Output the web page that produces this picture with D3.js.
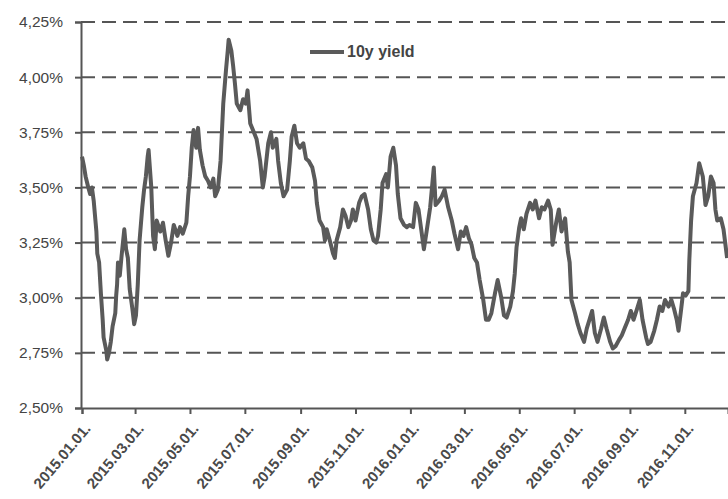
<!DOCTYPE html>
<html>
<head>
<meta charset="utf-8">
<script src="https://cdn.jsdelivr.net/npm/d3@7"></script>
<style>
  html, body { margin: 0; padding: 0; background: #fff; }
  svg { display: block; }
</style>
</head>
<body>
<svg id="chart" width="728" height="499"></svg>
<script>
const seriesName = "10y yield";
const dates = [
"2015-01-01","2015-01-03","2015-01-05","2015-01-08","2015-01-10","2015-01-12","2015-01-14","2015-01-17","2015-01-18","2015-01-20",
"2015-01-22","2015-01-24","2015-01-25","2015-01-28","2015-01-29","2015-01-31","2015-02-02","2015-02-04","2015-02-07","2015-02-08",
"2015-02-09","2015-02-10","2015-02-12","2015-02-14","2015-02-17","2015-02-19","2015-02-21","2015-02-23","2015-02-26","2015-02-28",
"2015-03-02","2015-03-04","2015-03-06","2015-03-09","2015-03-11","2015-03-13","2015-03-15","2015-03-16","2015-03-19","2015-03-21",
"2015-03-23","2015-03-25","2015-03-29","2015-04-01","2015-04-04","2015-04-07","2015-04-10","2015-04-13","2015-04-17","2015-04-20",
"2015-04-23","2015-04-27","2015-04-29","2015-05-01","2015-05-03","2015-05-05","2015-05-08","2015-05-10","2015-05-12","2015-05-15",
"2015-05-18","2015-05-21","2015-05-24","2015-05-27","2015-05-29","2015-06-01","2015-06-04","2015-06-07","2015-06-10","2015-06-12",
"2015-06-13","2015-06-16","2015-06-18","2015-06-20","2015-06-22","2015-06-26","2015-06-29","2015-07-02","2015-07-04","2015-07-07",
"2015-07-10","2015-07-14","2015-07-18","2015-07-21","2015-07-23","2015-07-27","2015-07-30","2015-08-01","2015-08-05","2015-08-07",
"2015-08-10","2015-08-13","2015-08-17","2015-08-20","2015-08-22","2015-08-25","2015-08-28","2015-08-31","2015-09-04","2015-09-07",
"2015-09-10","2015-09-14","2015-09-17","2015-09-19","2015-09-22","2015-09-26","2015-09-28","2015-09-30","2015-10-04","2015-10-07",
"2015-10-09","2015-10-11","2015-10-15","2015-10-18","2015-10-21","2015-10-24","2015-10-27","2015-10-29","2015-11-01","2015-11-05",
"2015-11-08","2015-11-11","2015-11-15","2015-11-18","2015-11-21","2015-11-24","2015-11-26","2015-11-29","2015-12-01","2015-12-05",
"2015-12-07","2015-12-10","2015-12-13","2015-12-16","2015-12-18","2015-12-21","2015-12-25","2015-12-28","2015-12-31","2016-01-04",
"2016-01-07","2016-01-10","2016-01-13","2016-01-16","2016-01-19","2016-01-23","2016-01-25","2016-01-27","2016-01-29","2016-02-02",
"2016-02-05","2016-02-08","2016-02-12","2016-02-16","2016-02-19","2016-02-23","2016-02-26","2016-02-29","2016-03-03","2016-03-06",
"2016-03-09","2016-03-12","2016-03-15","2016-03-18","2016-03-22","2016-03-25","2016-03-28","2016-03-31","2016-04-04","2016-04-07",
"2016-04-11","2016-04-14","2016-04-17","2016-04-21","2016-04-24","2016-04-26","2016-04-28","2016-05-01","2016-05-03","2016-05-06",
"2016-05-09","2016-05-13","2016-05-16","2016-05-19","2016-05-23","2016-05-26","2016-05-29","2016-06-02","2016-06-05","2016-06-07",
"2016-06-11","2016-06-14","2016-06-17","2016-06-21","2016-06-24","2016-06-26","2016-06-28","2016-07-02","2016-07-05","2016-07-08",
"2016-07-12","2016-07-15","2016-07-18","2016-07-21","2016-07-24","2016-07-27","2016-07-31","2016-08-03","2016-08-06","2016-08-10",
"2016-08-13","2016-08-16","2016-08-20","2016-08-23","2016-08-26","2016-08-30","2016-09-02","2016-09-05","2016-09-09","2016-09-12",
"2016-09-15","2016-09-19","2016-09-21","2016-09-24","2016-09-28","2016-10-01","2016-10-04","2016-10-07","2016-10-10","2016-10-14",
"2016-10-17","2016-10-20","2016-10-23","2016-10-25","2016-10-28","2016-10-30","2016-11-02","2016-11-05","2016-11-06","2016-11-08",
"2016-11-10","2016-11-14","2016-11-17","2016-11-21","2016-11-24","2016-11-27","2016-11-30","2016-12-03","2016-12-05","2016-12-07",
"2016-12-11","2016-12-14","2016-12-18"
];
const yields = [
3.64,3.60,3.55,3.50,3.47,3.50,3.44,3.30,3.20,3.16,
3.02,2.90,2.82,2.76,2.72,2.75,2.80,2.87,2.93,3.01,
3.06,3.16,3.10,3.19,3.31,3.22,3.18,3.04,2.95,2.88,
2.92,3.06,3.26,3.41,3.49,3.55,3.64,3.67,3.50,3.28,
3.22,3.35,3.30,3.34,3.26,3.19,3.25,3.33,3.28,3.32,
3.29,3.34,3.46,3.55,3.68,3.76,3.68,3.77,3.67,3.60,
3.55,3.53,3.50,3.54,3.46,3.49,3.62,3.88,4.03,4.12,
4.17,4.12,4.05,3.97,3.88,3.85,3.90,3.88,3.94,3.79,
3.76,3.72,3.62,3.50,3.55,3.70,3.75,3.68,3.72,3.62,
3.52,3.46,3.49,3.62,3.73,3.78,3.70,3.68,3.70,3.63,
3.62,3.59,3.53,3.43,3.35,3.32,3.26,3.31,3.25,3.20,
3.18,3.26,3.32,3.40,3.37,3.32,3.35,3.40,3.35,3.43,
3.46,3.47,3.40,3.31,3.26,3.25,3.28,3.40,3.52,3.56,
3.50,3.64,3.68,3.60,3.47,3.36,3.33,3.32,3.33,3.32,
3.43,3.40,3.31,3.22,3.30,3.41,3.50,3.59,3.42,3.44,
3.46,3.49,3.41,3.35,3.29,3.22,3.30,3.28,3.32,3.27,
3.24,3.18,3.16,3.08,2.99,2.90,2.90,2.93,3.02,3.08,
3.00,2.92,2.91,2.96,3.03,3.11,3.23,3.32,3.36,3.31,
3.38,3.43,3.40,3.44,3.36,3.41,3.40,3.44,3.40,3.24,
3.34,3.40,3.30,3.36,3.21,3.16,2.99,2.93,2.88,2.84,
2.80,2.86,2.90,2.94,2.84,2.80,2.86,2.91,2.86,2.80,
2.77,2.78,2.81,2.83,2.86,2.90,2.94,2.90,2.95,2.99,
2.90,2.82,2.79,2.80,2.85,2.90,2.96,2.94,2.99,2.96,
2.99,2.95,2.90,2.85,2.95,3.02,3.01,3.03,3.17,3.35,
3.46,3.52,3.61,3.55,3.42,3.46,3.55,3.52,3.40,3.35,
3.36,3.31,3.18
];
const xTickLabels = ["2015.01.01.","2015.03.01.","2015.05.01.","2015.07.01.","2015.09.01.","2015.11.01.",
  "2016.01.01.","2016.03.01.","2016.05.01.","2016.07.01.","2016.09.01.","2016.11.01."];
const yTicks = [2.50, 2.75, 3.00, 3.25, 3.50, 3.75, 4.00, 4.25];
const xDomainLabels = ["2015.01.01.", "2016.12.19."];

const parseIso = d3.timeParse("%Y-%m-%d");
const parseLbl = d3.timeParse("%Y.%m.%d.");
const data = dates.map((d, i) => ({ date: parseIso(d), value: yields[i] }));

const svg = d3.select("#chart");
const mLeft = 81, mRight = 728, mTop = 22, mBottom = 408;
const font = "'Liberation Sans', Arial, sans-serif";
const ink = "#555";

const x = d3.scaleTime()
  .domain(xDomainLabels.map(parseLbl))
  .range([mLeft + 1, mRight]);
const y = d3.scaleLinear().domain([2.5, 4.25]).range([mBottom, mTop]);

// gridlines
svg.append("g").selectAll("line")
  .data(yTicks.filter(v => v > 2.5))
  .join("line")
  .attr("x1", mLeft).attr("x2", mRight)
  .attr("y1", d => y(d)).attr("y2", d => y(d))
  .attr("stroke", ink).attr("stroke-width", 2)
  .attr("stroke-dasharray", "14,7");

// y axis
const yAxis = d3.axisLeft(y).tickValues(yTicks).tickSize(6)
  .tickFormat(d => d3.format(".2f")(d).replace(".", ",") + "%");
const gy = svg.append("g").attr("transform", `translate(${mLeft},0)`).call(yAxis);
gy.select(".domain").attr("stroke", ink).attr("stroke-width", 2);
gy.selectAll(".tick line").attr("stroke", ink).attr("stroke-width", 2);
gy.selectAll(".tick text").attr("x", -18).attr("fill", "#444")
  .style("font-family", font).style("font-size", "15.5px");

// x axis
const xAxis = d3.axisBottom(x).tickValues(xTickLabels.map(parseLbl)).tickSize(6)
  .tickFormat(d3.timeFormat("%Y.%m.%d."));
const gx = svg.append("g").attr("transform", `translate(0,${mBottom})`).call(xAxis);
gx.select(".domain").attr("stroke", ink).attr("stroke-width", 2);
gx.selectAll(".tick line").attr("stroke", ink).attr("stroke-width", 2);
gx.selectAll(".tick text")
  .attr("y", 0).attr("dy", 0)
  .attr("transform", "translate(9,21) rotate(-50)")
  .attr("text-anchor", "end")
  .attr("fill", "#4a4a4a")
  .style("font-family", font).style("font-size", "15px").style("font-weight", "bold");

// line
const line = d3.line().x(d => x(d.date)).y(d => y(d.value));
svg.append("path").datum(data)
  .attr("d", line)
  .attr("fill", "none")
  .attr("stroke", "#5a5a5a")
  .attr("stroke-width", 4)
  .attr("stroke-linejoin", "round");

// legend
const lg = svg.append("g");
lg.append("line").attr("x1", 310).attr("x2", 344).attr("y1", 52).attr("y2", 52)
  .attr("stroke", "#5a5a5a").attr("stroke-width", 4);
lg.append("text").attr("x", 347).attr("y", 57).text(seriesName)
  .attr("fill", "#444").style("font-family", font).style("font-size", "16px").style("font-weight", "bold");
</script>
</body>
</html>
